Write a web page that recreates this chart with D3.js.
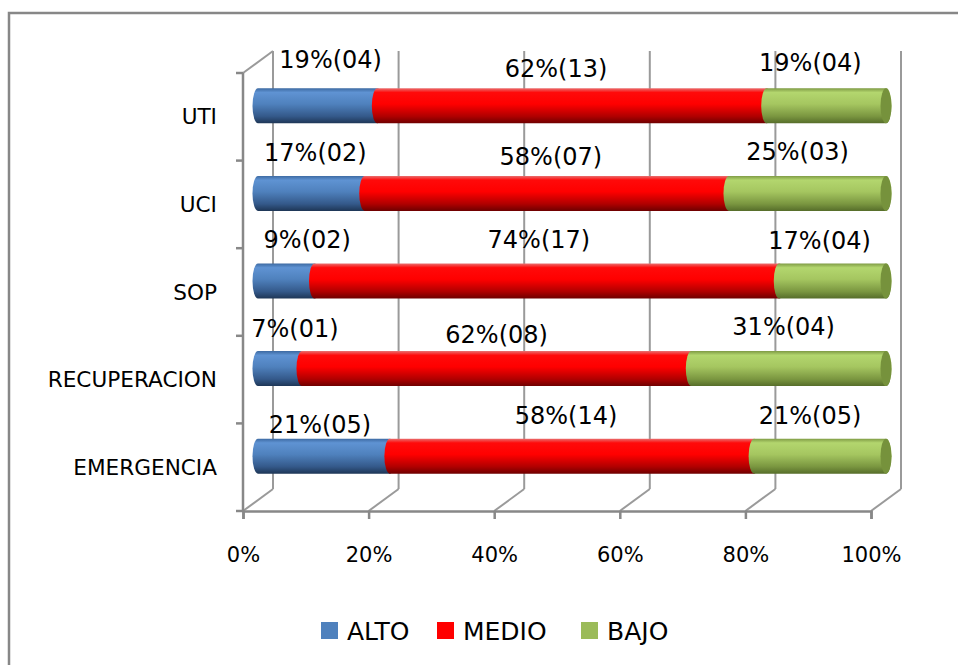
<!DOCTYPE html>
<html><head><meta charset="utf-8">
<script src="https://cdn.jsdelivr.net/npm/d3@7"></script>
<style>
html,body{margin:0;padding:0;background:#fff;}
svg{display:block;}
text{font-family:"DejaVu Sans",sans-serif;fill:#000;}
</style></head>
<body>
<svg id="chart" width="958" height="665"></svg>
<script>
// ---- data ----
const categories = ["UTI", "UCI", "SOP", "RECUPERACION", "EMERGENCIA"];
const seriesNames = ["ALTO", "MEDIO", "BAJO"];
const altoPct  = [19, 17, 9, 7, 21];
const medioPct = [62, 58, 74, 62, 58];
const bajoPct  = [19, 25, 17, 31, 21];
const altoN  = [4, 2, 2, 1, 5];
const medioN = [13, 7, 17, 8, 14];
const bajoN  = [4, 3, 4, 4, 5];
const tickValues = [0, 20, 40, 60, 80, 100];

// ---- layout / styling (not data) ----
const colors = {
  ALTO:  {base:"#4f81bd", stops:["#3d6aa2","#5f93d3","#4f81bd","#34598a","#1e3656"], cap:"#3a6597"},
  MEDIO: {base:"#ff0000", stops:["#e97070","#ff0a0a","#ff0000","#b00000","#6e0000"], cap:"#c00000"},
  BAJO:  {base:"#9bbb59", stops:["#7f9b45","#b3d66e","#a5c660","#7a9640","#566d2a"], cap:"#76923c"}
};
// label nudges relative to computed segment centre [dx, dy]
const labelNudge = [
  [[13,-6],[-16,3],[-16,-3]],
  [[4,0],[4,4],[-10,-1]],
  [[21,-1],[-8,-1],[-13,0]],
  [[15,0],[0,6],[-5,-2]],
  [[-4,9],[-6,0],[-10,0]]
];
const depthX = 30, depthY = -22;

const svg = d3.select("#chart");
const defs = svg.append("defs");

// outer frame
svg.append("path").attr("d","M9,665 L9,13 L958,13")
  .attr("fill","none").attr("stroke","#878787").attr("stroke-width",2.5);

const x = d3.scaleLinear().domain([0,100]).range([243,871]);
const y = d3.scaleBand().domain(categories).range([73,511]).paddingInner(0.6).paddingOuter(0.3);
const step = y.step();
const yTop = 73, yBot = 511;

const axisColor = "#888888";
const gridColor = "#9a9a9a";

// back wall gridlines
svg.append("g").selectAll("line").data(tickValues).join("line")
  .attr("x1", d => x(d)+depthX).attr("x2", d => x(d)+depthX)
  .attr("y1", yBot+depthY).attr("y2", yTop+depthY)
  .attr("stroke", gridColor).attr("stroke-width", 2);
// floor diagonals
svg.append("g").selectAll("line").data(tickValues).join("line")
  .attr("x1", d => x(d)).attr("x2", d => x(d)+depthX)
  .attr("y1", yBot).attr("y2", yBot+depthY)
  .attr("stroke", gridColor).attr("stroke-width", 2);
// top diagonal of category axis
svg.append("line").attr("x1",x(0)).attr("y1",yTop).attr("x2",x(0)+depthX).attr("y2",yTop+depthY)
  .attr("stroke", gridColor).attr("stroke-width", 2);

// category axis
const catTicks = d3.range(categories.length+1).map(i => yTop + i*step);
svg.append("line").attr("x1",x(0)).attr("x2",x(0)).attr("y1",yTop).attr("y2",yBot)
  .attr("stroke",axisColor).attr("stroke-width",2.5);
svg.append("g").selectAll("line").data(catTicks).join("line")
  .attr("x1",x(0)-7).attr("x2",x(0)).attr("y1",d=>d).attr("y2",d=>d)
  .attr("stroke",axisColor).attr("stroke-width",2.5);
svg.append("g").selectAll("text").data(categories).join("text")
  .attr("x",217).attr("y",(d,i)=> yTop + (i+0.5)*step)
  .attr("text-anchor","end").attr("dominant-baseline","central")
  .attr("font-size",21.6).text(d=>d);

// value axis
const xAxis = d3.axisBottom(x).tickValues(tickValues).tickFormat(d=>d+"%")
  .tickSize(8).tickPadding(28);
const gx = svg.append("g").attr("transform",`translate(0,${yBot})`).call(xAxis);
gx.select(".domain").attr("stroke",axisColor).attr("stroke-width",2.5);
gx.selectAll(".tick line").attr("stroke",axisColor).attr("stroke-width",2.5);
gx.selectAll(".tick text").attr("font-size",21).attr("font-family","DejaVu Sans").attr("fill","#000");

// gradients
seriesNames.forEach(s=>{
  const g = defs.append("linearGradient").attr("id","grad-"+s)
    .attr("x1",0).attr("x2",0).attr("y1",0).attr("y2",1);
  const offs = [0,0.12,0.45,0.8,1];
  colors[s].stops.forEach((c,i)=> g.append("stop").attr("offset",offs[i]).attr("stop-color",c));
});

// bars (cylinders) at mid depth
const pct = [altoPct, medioPct, bajoPct];
const cnt = [altoN, medioN, bajoN];
const rx = 5.5;
const bh = y.bandwidth();
const midDX = depthX/2, midDY = depthY/2;
const rows = categories.map((c,i)=>{
  let acc = 0;
  return seriesNames.map((s,k)=>{
    const seg = {cat:c, i, k, s, v:pct[k][i], n:cnt[k][i], x0:acc, x1:acc+pct[k][i]};
    acc += pct[k][i];
    return seg;
  });
});
const barG = svg.append("g");
rows.forEach(row=>{
  row.forEach(seg=>{
    const X0 = x(seg.x0)+midDX, X1 = x(seg.x1)+midDX;
    const T = y(seg.cat)+midDY, B = T+bh, r = bh/2;
    const p = `M${X0},${T} L${X1},${T} A${rx},${r} 0 0 1 ${X1},${B} L${X0},${B} A${rx},${r} 0 0 1 ${X0},${T} Z`;
    barG.append("path").attr("d",p).attr("fill",`url(#grad-${seg.s})`);
  });
  const last = row[row.length-1];
  const X1 = x(last.x1)+midDX, T = y(last.cat)+midDY;
  barG.append("ellipse").attr("cx",X1).attr("cy",T+bh/2).attr("rx",rx).attr("ry",bh/2)
    .attr("fill",colors[last.s].cap);
});

// data labels
const lblG = svg.append("g");
rows.forEach(row=>{
  row.forEach(seg=>{
    const cx = x((seg.x0+seg.x1)/2)+midDX;
    const cy = y(seg.cat)+midDY+bh/2 - 40;
    const nd = labelNudge[seg.i][seg.k];
    lblG.append("text").attr("x",cx+nd[0]).attr("y",cy+nd[1])
      .attr("text-anchor","middle").attr("dominant-baseline","central")
      .attr("font-size",24)
      .text(`${seg.v}%(${String(seg.n).padStart(2,"0")})`);
  });
});

// legend
const legendX = [321, 437, 581];
const leg = svg.append("g");
seriesNames.forEach((s,k)=>{
  leg.append("rect").attr("x",legendX[k]).attr("y",622).attr("width",17).attr("height",17)
    .attr("fill",colors[s].base);
  leg.append("text").attr("x",legendX[k]+26).attr("y",640)
    .attr("font-size",25).text(s);
});
</script>
</body></html>
